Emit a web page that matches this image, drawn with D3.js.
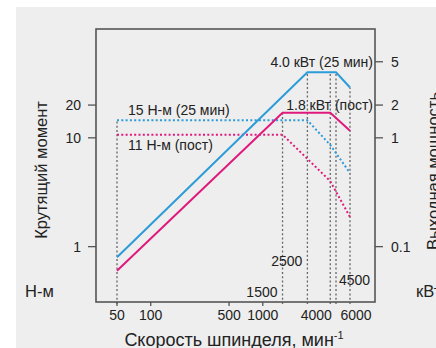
<!DOCTYPE html>
<html><head><meta charset="utf-8">
<script src="https://cdn.jsdelivr.net/npm/d3@7"></script>
<style>
html,body{margin:0;padding:0;background:#fff;}
svg text{font-family:"Liberation Sans",Arial,Helvetica,sans-serif;fill:#222;}
</style></head>
<body><svg id="c" width="436" height="348"></svg>
<script>
// ---- data ----
const speedTicks = [50, 100, 500, 1000, 4000, 6000];
const torqueTicks = [1, 10, 20];
const powerTicks = [0.1, 1, 2, 5];
// power curves [speed, kW]
const powerMax = [[50, 0.08], [2500, 4.0], [4500, 4.0], [6000, 2.9]];
const powerCont = [[50, 0.06], [1500, 1.7], [4000, 1.7], [6000, 1.16]];
// torque curves [speed, N·m]
const torqueMax = [[50, 14.5], [2500, 14.5], [4000, 8.6], [6000, 4.75]];
const torqueCont = [[50, 10.7], [1500, 10.7], [4000, 4.0], [6000, 1.87]];
// vertical guides: speed and the value where each stops
const guideSpeeds = [50, 1500, 2500, 4000, 4500, 6000];
const guideTops = [{t: 14.5}, {p: 1.7}, {p: 4.0}, {p: 4.0}, {p: 4.0}, {p: 2.9}];
const speedLabels = ["1500", "2500", "4500"];

// ---- layout ----
const svg = d3.select("#c");
const L = 96, R = 375, T = 29, B = 302;
const blue = "#2c9cd9", mag = "#e01a7c", gray = "#555";

svg.append("rect").attr("x", 16).attr("y", 7).attr("width", 420).attr("height", 341).attr("fill", "#eeeeee");

const x = d3.scaleLog().domain([50, 6000]).range([117, 350]);
const yT = d3.scaleLog().domain([0.31, 100]).range([B, T]);
const yP = d3.scaleLog().domain([0.031, 10]).range([B, T]);

// guides
guideSpeeds.forEach((s, i) => {
  const g = guideTops[i];
  const top = g.t !== undefined ? yT(g.t) : yP(g.p);
  svg.append("line").attr("x1", x(s)).attr("x2", x(s)).attr("y1", B + 2).attr("y2", top)
    .attr("stroke", "#666").attr("stroke-width", 1.3).attr("stroke-dasharray", "2,2.3");
});

const lineP = d3.line().x(d => x(d[0])).y(d => yP(d[1]));
const lineT = d3.line().x(d => x(d[0])).y(d => yT(d[1]));

svg.append("path").attr("d", lineT(torqueMax)).attr("fill", "none").attr("stroke", blue)
  .attr("stroke-width", 2).attr("stroke-dasharray", "2,2.3");
svg.append("path").attr("d", lineT(torqueCont)).attr("fill", "none").attr("stroke", mag)
  .attr("stroke-width", 2).attr("stroke-dasharray", "2,2.3");
svg.append("path").attr("d", lineP(powerMax)).attr("fill", "none").attr("stroke", blue).attr("stroke-width", 2);
svg.append("path").attr("d", lineP(powerCont)).attr("fill", "none").attr("stroke", mag).attr("stroke-width", 2);

// frame
svg.append("rect").attr("x", L).attr("y", T).attr("width", R - L).attr("height", B - T)
  .attr("fill", "none").attr("stroke", gray).attr("stroke-width", 1.6);

// left axis
torqueTicks.forEach(v => {
  svg.append("line").attr("x1", L - 8).attr("x2", L).attr("y1", yT(v)).attr("y2", yT(v)).attr("stroke", gray).attr("stroke-width", 1.3);
  svg.append("text").attr("x", 81).attr("y", yT(v)).attr("dy", "0.35em").attr("text-anchor", "end")
    .attr("font-size", 14).text(v);
});
// right axis
powerTicks.forEach(v => {
  svg.append("line").attr("x1", R).attr("x2", R + 8).attr("y1", yP(v)).attr("y2", yP(v)).attr("stroke", gray).attr("stroke-width", 1.3);
  svg.append("text").attr("x", 391).attr("y", yP(v)).attr("dy", "0.35em").attr("text-anchor", "start")
    .attr("font-size", 14).text(v);
});
// bottom axis
const nudge = {4000: -14, 6000: 6};
speedTicks.forEach(v => {
  if (v <= 1000) svg.append("line").attr("x1", x(v)).attr("x2", x(v)).attr("y1", B).attr("y2", B + 4).attr("stroke", gray).attr("stroke-width", 1.3);
  svg.append("text").attr("x", x(v) + (nudge[v] || 0)).attr("y", 320).attr("text-anchor", "middle")
    .attr("font-size", 14).text(v);
});

// in-plot labels
svg.append("text").attr("x", R - 2).attr("y", yP(5)).attr("dy", "0.35em").attr("text-anchor", "end").attr("font-size", 14).text("4.0 кВт (25 мин)");
svg.append("text").attr("x", R - 2).attr("y", yP(2)).attr("dy", "0.35em").attr("text-anchor", "end").attr("font-size", 14).text("1.8 кВт (пост)");
svg.append("text").attr("x", 128).attr("y", yT(torqueMax[0][1]) - 10).attr("dy", "0.35em").attr("font-size", 14).text("15 Н-м (25 мин)");
svg.append("text").attr("x", 128).attr("y", yT(torqueCont[0][1]) + 10).attr("dy", "0.35em").attr("font-size", 14).text("11 Н-м (пост)");
svg.append("text").attr("x", x(1500) - 5).attr("y", 292).attr("dy", "0.35em").attr("text-anchor", "end").attr("font-size", 14).text(speedLabels[0]);
svg.append("text").attr("x", x(2500) - 5).attr("y", 261).attr("dy", "0.35em").attr("text-anchor", "end").attr("font-size", 14).text(speedLabels[1]);
svg.append("text").attr("x", x(4500) + 3).attr("y", 280).attr("dy", "0.35em").attr("text-anchor", "start").attr("font-size", 14).text(speedLabels[2]);

// titles
svg.append("text").attr("transform", "translate(47,170) rotate(-90)").attr("text-anchor", "middle").attr("font-size", 16.5).text("Крутящий момент");
svg.append("text").attr("transform", "translate(439,171) rotate(-90)").attr("text-anchor", "middle").attr("font-size", 16.5).text("Выходная мощность");
svg.append("text").attr("x", 25).attr("y", 297).attr("font-size", 16.5).text("Н-м");
svg.append("text").attr("x", 416).attr("y", 297).attr("font-size", 16.5).text("кВт");
const xt = svg.append("text").attr("x", 234).attr("y", 346).attr("text-anchor", "middle").attr("font-size", 18);
xt.append("tspan").text("Скорость шпинделя, мин");
xt.append("tspan").attr("dy", -7).attr("font-size", 11).text("-1");
</script></body></html>
